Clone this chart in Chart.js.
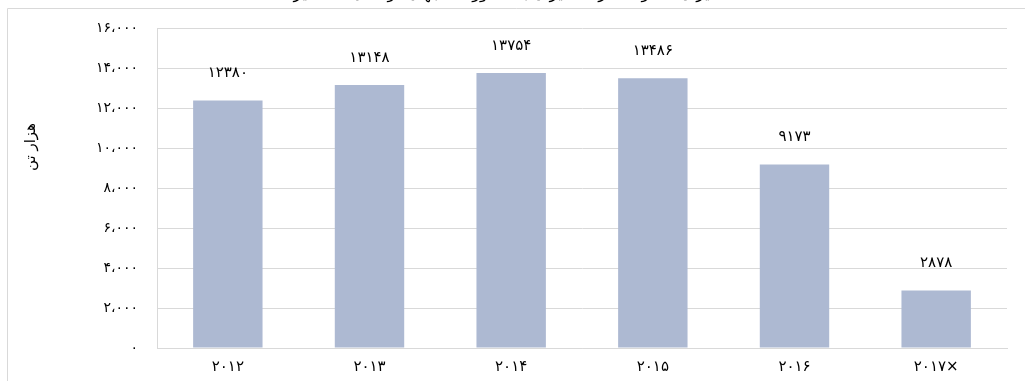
<!DOCTYPE html>
<html>
<head>
<meta charset="utf-8">
<script src="https://cdn.jsdelivr.net/npm/chart.js@4"></script>
<style>
html,body{margin:0;padding:0;background:#fff;overflow:hidden;}
canvas{display:block;}
</style>
</head>
<body>
<canvas id="c" width="1025" height="381"></canvas>
<script>
const categories = ['2012', '2013', '2014', '2015', '2016', '2017×'];
const values = [12380, 13148, 13754, 13486, 9173, 2878];
const yTicks = [0, 2000, 4000, 6000, 8000, 10000, 12000, 14000, 16000];
const yTitle = 'هزار تن';
const chartTitle = 'میزان صادرات خرمای ایران به کشورهای جهان در سال‌های اخیر';

const FA = '۰۱۲۳۴۵۶۷۸۹';
function fa(s){ return String(s).replace(/[0-9]/g, d => FA[+d]); }
function faNum(n){
  const s = Math.round(n).toString().replace(/\B(?=(\d{3})+(?!\d))/g, '،');
  return fa(s);
}
const FONT = '"DejaVu Sans", sans-serif';

const decor = {
  id: 'decor',
  beforeDraw(chart){
    const ctx = chart.ctx;
    ctx.save();
    ctx.strokeStyle = '#D9D9D9';
    ctx.lineWidth = 1;
    ctx.beginPath();
    ctx.moveTo(7.5, 1030); ctx.lineTo(7.5, 8.5); ctx.lineTo(1030, 8.5);
    ctx.stroke();
    ctx.restore();
  },
  afterDraw(chart){
    const ctx = chart.ctx;
    ctx.save();
    // clipped chart title
    ctx.fillStyle = '#000';
    ctx.font = '16px ' + FONT;
    ctx.textAlign = 'center';
    ctx.textBaseline = 'alphabetic';
    ctx.fillText(chartTitle, 506, -2);
    // y axis title
    ctx.translate(31, 147);
    ctx.rotate(-Math.PI/2);
    ctx.font = '15px ' + FONT;
    ctx.textBaseline = 'middle';
    ctx.fillText(yTitle, 0, 0);
    ctx.restore();
    // data labels
    const meta = chart.getDatasetMeta(0);
    ctx.save();
    ctx.fillStyle = '#000';
    ctx.font = '15px ' + FONT;
    ctx.textAlign = 'center';
    ctx.textBaseline = 'middle';
    meta.data.forEach((bar, i) => {
      ctx.fillText(fa(values[i]), bar.x, bar.y - 27);
    });
    ctx.restore();
  }
};

new Chart(document.getElementById('c'), {
  type: 'bar',
  data: {
    labels: categories,
    datasets: [{
      data: values,
      backgroundColor: '#ADB9D2',
      borderWidth: 0,
      categoryPercentage: 1,
      barPercentage: 0.49
    }]
  },
  options: {
    responsive: false,
    animation: false,
    devicePixelRatio: 1,
    layout: { padding: { left: 0, right: 18, top: 28, bottom: 0 } },
    plugins: { legend: { display: false }, tooltip: { enabled: false }, title: { display: false } },
    scales: {
      x: {
        grid: { display: false, drawTicks: false },
        border: { display: true, color: '#D9D9D9' },
        ticks: { color: '#000', font: { family: FONT, size: 15 }, padding: 10, callback: (v, i) => fa(categories[i]) },
        afterFit(s){ s.height = 33; }
      },
      y: {
        min: 0, max: 16000,
        afterBuildTicks(s){ s.ticks = yTicks.map(v => ({ value: v })); },
        grid: { color: '#D9D9D9', drawTicks: false },
        border: { display: true, color: '#D9D9D9' },
        ticks: { color: '#000', font: { family: FONT, size: 14 }, padding: 19, callback: v => faNum(v) },
        afterFit(s){ s.width = 157; }
      }
    }
  },
  plugins: [decor]
});
</script>
</body>
</html>
